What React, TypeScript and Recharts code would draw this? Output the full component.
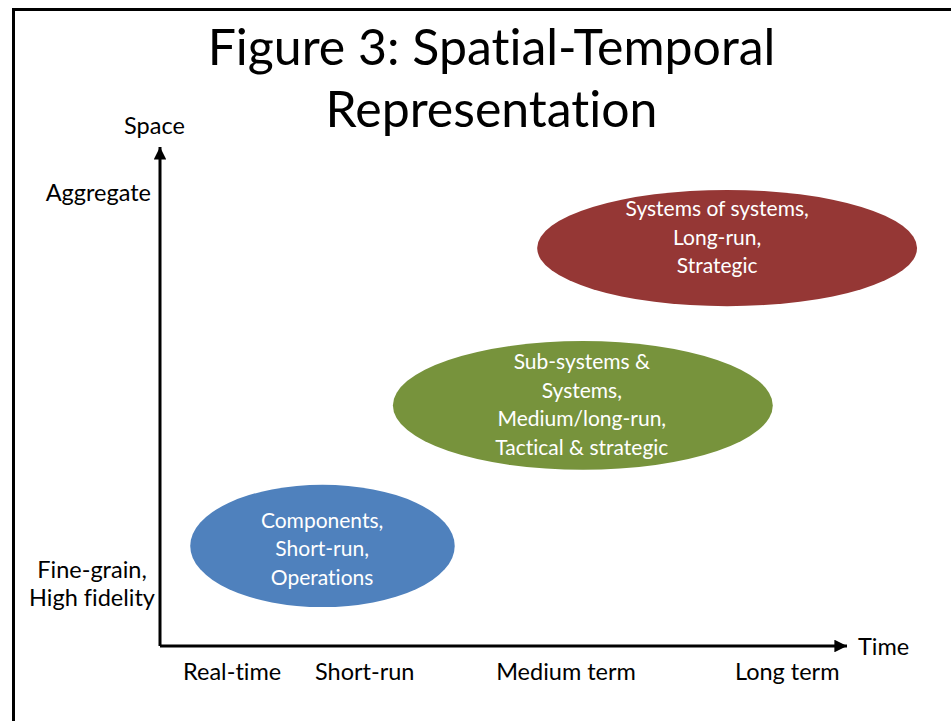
import React from 'react';
import { ScatterChart, Scatter, XAxis, YAxis, ReferenceArea } from 'recharts';

const FONT = "Lato, 'Open Sans', sans-serif";

// time axis (x) ticks and names
const timeTicks = [10.5, 29.8, 59.1, 91.3];
const timeLabels = ['Real-time', 'Short-run', 'Medium term', 'Long term'];

// space axis (y) ticks and names
const spaceTicks = [12.4, 90.8];
const spaceLabels = [['Fine-grain,', 'High fidelity'], ['Aggregate']];

// regions: extent on the time and space scales
const regionTimeFrom = [4.4, 33.9, 54.9];
const regionTimeTo = [42.9, 89.2, 110.2];
const regionSpaceFrom = [7.8, 35.3, 68.1];
const regionSpaceTo = [32.3, 61.1, 91.4];
const regionColors = ['#4F81BD', '#77933C', '#953735'];

// region captions, placed at their own point
const captionTime = [23.6, 61.4, 81.1];
const captionSpace = [19.4, 48.3, 81.8];
const captionLines = [
  ['Components,', 'Short-run,', 'Operations'],
  ['Sub-systems &', 'Systems,', 'Medium/long-run,', 'Tactical & strategic'],
  ['Systems of systems,', 'Long-run,', 'Strategic'],
];

const captions = captionTime.map((t, i) => ({ time: t, space: captionSpace[i], lines: captionLines[i] }));

const textStyle = { fontVariantLigatures: 'none' as const };
const AXIS_FS = 23.5;

const EllipseShape = (props: any) => {
  const { x, y, width, height, fill } = props;
  return <ellipse cx={x + width / 2} cy={y + height / 2} rx={width / 2} ry={height / 2} fill={fill} />;
};

const CaptionShape = (props: any) => {
  const { cx, cy, payload } = props;
  const lines: string[] = payload.lines;
  const lh = 28.5;
  const top = cy - ((lines.length - 1) * lh) / 2;
  return (
    <g>
      {lines.map((l, i) => (
        <text key={i} x={cx} y={top + i * lh + 7} textAnchor="middle" fill="#fff" fontSize={21} fontFamily={FONT} style={textStyle}>
          {l}
        </text>
      ))}
    </g>
  );
};

const TimeTick = (props: any) => {
  const { x, y, payload } = props;
  const idx = timeTicks.indexOf(payload.value);
  return (
    <text x={x} y={y + 34} textAnchor="middle" fill="#000" fontSize={AXIS_FS} fontFamily={FONT} style={textStyle}>
      {timeLabels[idx]}
    </text>
  );
};

const SpaceTick = (props: any) => {
  const { x, y, payload } = props;
  const idx = spaceTicks.indexOf(payload.value);
  const lines = spaceLabels[idx];
  const lh = 28;
  const top = y - ((lines.length - 1) * lh) / 2;
  const single = lines.length === 1;
  return (
    <g>
      {lines.map((l, i) => (
        <text
          key={i}
          x={single ? x - 9 : x - 68}
          y={top + i * lh + 8}
          textAnchor={single ? 'end' : 'middle'}
          fill="#000"
          fontSize={AXIS_FS}
          fontFamily={FONT}
          style={textStyle}
        >
          {l}
        </text>
      ))}
    </g>
  );
};

const App = () => {
  return (
    <div style={{ position: 'absolute', left: 0, top: 0, width: 951, height: 721, overflow: 'hidden', background: '#fff' }}>
      <div style={{ position: 'absolute', left: 12, top: 8, width: 1000, height: 1000, border: '3px solid #000' }} />
      <div
        style={{
          position: 'absolute', left: 0, top: 15, width: 983, textAlign: 'center',
          fontFamily: FONT, fontSize: 50, lineHeight: '62px', color: '#000', fontVariantLigatures: 'none',
        }}
      >
        Figure 3: Spatial-Temporal
        <br />
        Representation
      </div>
      <div style={{ position: 'absolute', left: 0, top: 0 }}>
        <ScatterChart width={951} height={721} margin={{ top: 147, left: 159, right: 104, bottom: 74 }}>
          <defs>
            <marker id="arrowHead" viewBox="0 0 10 10" refX="10" refY="5" markerWidth="4.2" markerHeight="4.2" orient="auto-start-reverse">
              <path d="M0,0 L10,5 L0,10 z" fill="#000" />
            </marker>
          </defs>
          <XAxis
            type="number"
            dataKey="time"
            domain={[0, 100]}
            ticks={timeTicks}
            height={1}
            tickSize={0}
            tickMargin={0}
            tickLine={false}
            axisLine={{ stroke: '#000', strokeWidth: 3, markerEnd: 'url(#arrowHead)' }}
            tick={<TimeTick />}
            allowDataOverflow
            label={{ value: 'Time', position: 'right', offset: 11, fill: '#000', fontSize: AXIS_FS, fontFamily: FONT }}
          />
          <YAxis
            type="number"
            dataKey="space"
            domain={[0, 100]}
            ticks={spaceTicks}
            width={1}
            tickSize={0}
            tickMargin={0}
            tickLine={false}
            axisLine={{ stroke: '#000', strokeWidth: 3, markerStart: 'url(#arrowHead)' }}
            tick={<SpaceTick />}
            allowDataOverflow
            label={{ value: 'Space', position: 'top', offset: 13, dx: -5, fill: '#000', fontSize: AXIS_FS, fontFamily: FONT }}
          />
          {regionColors.map((c, i) => (
            <ReferenceArea
              key={i}
              x1={regionTimeFrom[i]}
              x2={regionTimeTo[i]}
              y1={regionSpaceFrom[i]}
              y2={regionSpaceTo[i]}
              fill={c}
              fillOpacity={1}
              ifOverflow="visible"
              shape={<EllipseShape />}
            />
          ))}
          <Scatter data={captions} shape={<CaptionShape />} isAnimationActive={false} />
        </ScatterChart>
      </div>
    </div>
  );
};

export default App;
